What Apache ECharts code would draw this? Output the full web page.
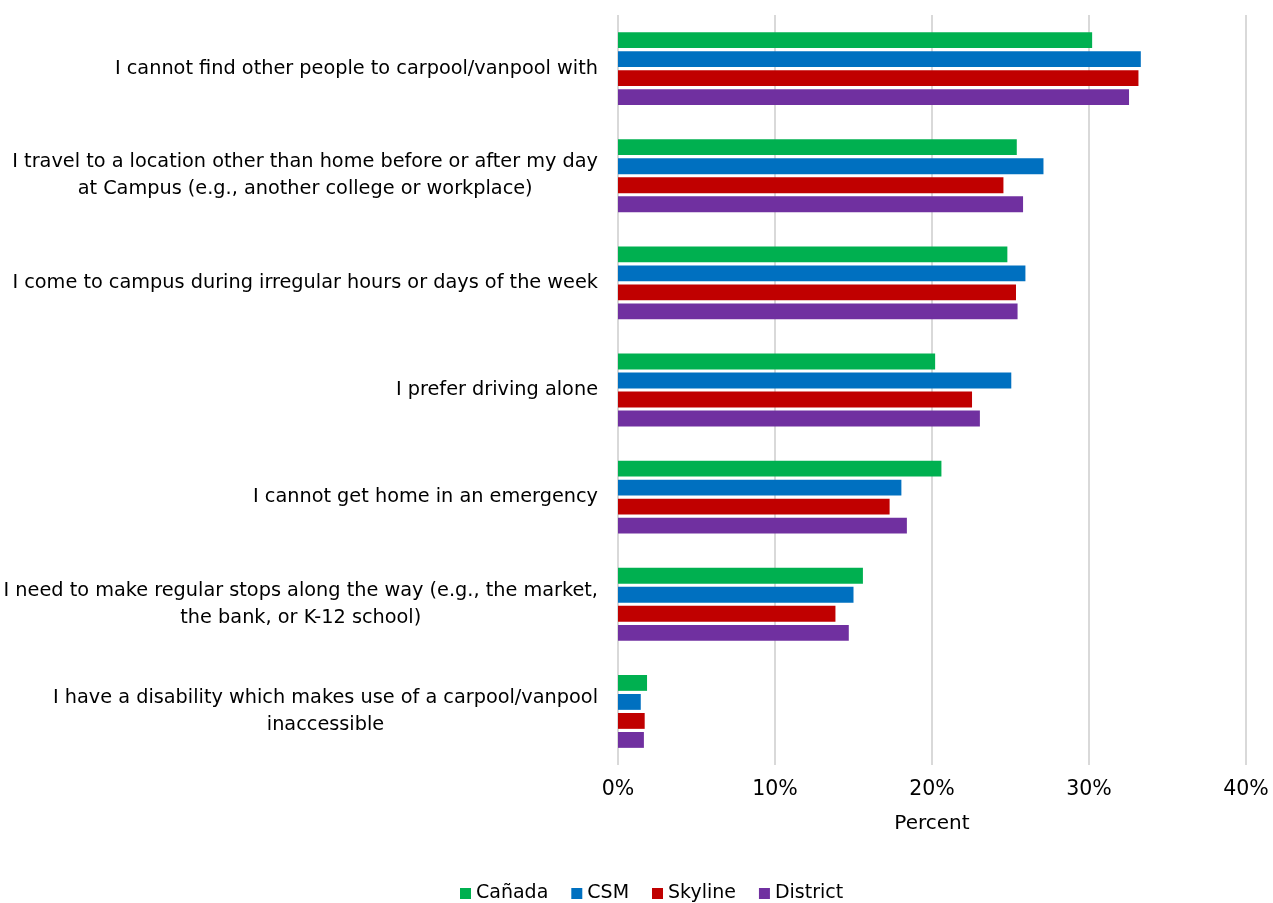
<!DOCTYPE html>
<html>
<head>
<meta charset="utf-8">
<script src="https://cdn.jsdelivr.net/npm/echarts@6/dist/echarts.min.js"></script>
<style>html,body{margin:0;padding:0;background:#fff}#c{width:1273px;height:903px}</style>
</head>
<body>
<div id="c"></div>
<script>
const categories = [
  "I cannot find other people to carpool/vanpool with",
  "I travel to a location other than home before or after my day\nat Campus (e.g., another college or workplace)",
  "I come to campus during irregular hours or days of the week",
  "I prefer driving alone",
  "I cannot get home in an emergency",
  "I need to make regular stops along the way (e.g., the market,\nthe bank, or K-12 school)",
  "I have a disability which makes use of a carpool/vanpool\ninaccessible"
];
const canada   = [30.2, 25.4, 24.8, 20.2, 20.6, 15.6, 1.85];
const csm      = [33.3, 27.1, 25.95, 25.05, 18.05, 15.0, 1.45];
const skyline  = [33.15, 24.55, 25.35, 22.55, 17.3, 13.85, 1.7];
const district = [32.55, 25.8, 25.45, 23.05, 18.4, 14.7, 1.65];
const seriesNames = ["Cañada", "CSM", "Skyline", "District"];
const xTicks = [0, 10, 20, 30, 40];
const colors = ["#00B050", "#0070C0", "#C00000", "#7030A0"];

const FONT = "DejaVu Sans";
const chart = echarts.init(document.getElementById('c'), null, {renderer: 'canvas'});
const data = [canada, csm, skyline, district];
chart.setOption({
  animation: false,
  color: colors,
  textStyle: {fontFamily: FONT},
  grid: {left: 618, right: 27, top: 15, bottom: 138, containLabel: false},
  legend: {
    top: 879, left: 455,
    itemWidth: 11, itemHeight: 11, itemGap: 23,
    icon: 'rect',
    textStyle: {fontSize: 19, color: '#000', fontFamily: FONT},
    data: seriesNames
  },
  xAxis: {
    type: 'value', min: xTicks[0], max: xTicks[xTicks.length-1], interval: 10,
    name: 'Percent', nameLocation: 'middle', nameGap: 49,
    nameTextStyle: {fontSize: 20, color: '#000', fontFamily: FONT},
    axisLabel: {formatter: v => v + '%', fontSize: 20.5, color: '#000', margin: 14, fontFamily: FONT},
    axisLine: {show: false}, axisTick: {show: false},
    splitLine: {show: true, lineStyle: {color: '#D9D9D9', width: 2}}
  },
  yAxis: {
    type: 'category', inverse: true, data: categories,
    axisLine: {show: false}, axisTick: {show: false},
    axisLabel: {
      margin: 20, align: 'right', fontFamily: FONT, fontSize: 19.3, color: '#000', lineHeight: 27,
      formatter: v => v.split('\n').map(l => '{c|' + l + '}').join('\n'),
      rich: {c: {align: 'center', fontSize: 19.3, color: '#000', fontFamily: FONT, lineHeight: 27}}
    }
  },
  series: seriesNames.map((n, i) => ({
    name: n, type: 'bar', data: data[i],
    barGap: '20%', barCategoryGap: '32%'
  }))
});
</script>
</body>
</html>
